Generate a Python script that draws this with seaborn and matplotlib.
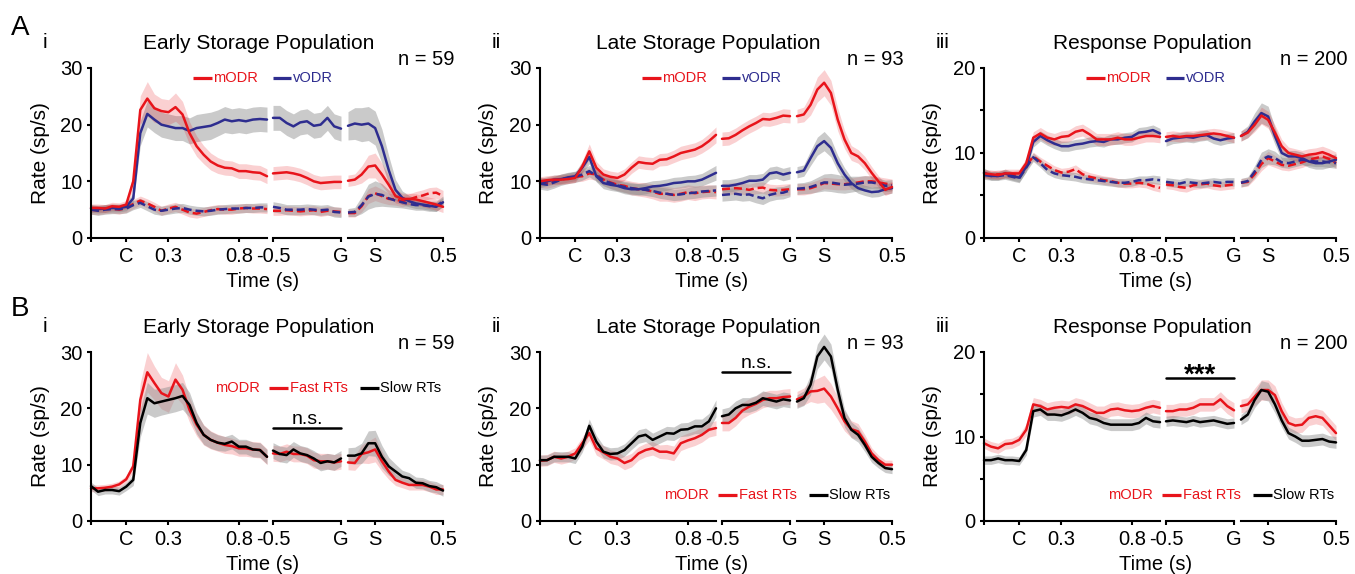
import numpy as np
import matplotlib
matplotlib.use("Agg")
import matplotlib.pyplot as plt
from matplotlib.lines import Line2D
import seaborn as sns

# time grids (s) for the three aligned epochs: cue, go, saccade
t_cue = np.round(np.arange(-0.25, 1.0001, 0.05), 2)   # 26 pts
t_go = np.round(np.arange(-0.5, 0.0001, 0.05), 2)     # 11 pts
t_sac = np.round(np.arange(-0.2, 0.5001, 0.05), 2)    # 15 pts

# ---- row A : mODR vs vODR, preferred (solid) / non-preferred (dashed) ----
early_modr_pref = [5.3, 5.3, 5.2, 5.6, 5.5, 5.9, 10.0, 22.6, 24.6, 22.9, 22.4, 22.2, 23.1, 21.8, 18.5, 16.2, 14.7, 13.5, 12.8, 12.4, 12.3, 11.8, 11.8, 11.6, 11.5, 10.9,
                   11.4, 11.5, 11.6, 11.4, 11.1, 10.6, 10.0, 9.7, 9.8, 9.9, 9.9,
                   10.1, 10.3, 11.2, 12.6, 12.8, 11.2, 9.4, 7.4, 6.9, 6.9, 6.8, 6.5, 6.2, 5.9, 5.5]
early_modr_pref_sem = [0.7, 0.7, 0.7, 0.7, 0.7, 0.7, 1.2, 2.5, 3.0, 2.5, 2.2, 2.2, 2.5, 2.3, 2.0, 1.8, 1.6, 1.5, 1.4, 1.3, 1.3, 1.3, 1.3, 1.3, 1.3, 1.3,
                       1.2, 1.2, 1.2, 1.2, 1.2, 1.2, 1.2, 1.2, 1.2, 1.2, 1.2,
                       1.0, 1.0, 1.5, 2.0, 2.2, 2.0, 1.6, 1.2, 1.0, 1.0, 1.0, 1.0, 1.0, 1.0, 1.0]
early_vodr_pref = [5.2, 5.1, 5.2, 5.3, 5.3, 5.5, 7.0, 18.5, 21.9, 20.9, 20.0, 19.7, 19.4, 19.4, 18.9, 19.4, 19.6, 19.8, 20.3, 20.9, 20.6, 20.8, 20.6, 20.9, 21.0, 20.9,
                   21.2, 21.2, 20.3, 19.7, 20.4, 20.6, 19.8, 20.0, 21.2, 19.7, 19.3,
                   19.8, 20.2, 20.0, 20.2, 19.4, 16.2, 12.0, 8.5, 7.1, 6.5, 6.1, 5.9, 5.7, 5.5, 6.3]
early_vodr_pref_sem = [0.7, 0.7, 0.7, 0.7, 0.7, 0.7, 1.0, 2.2, 2.3, 2.3, 2.2, 2.2, 2.2, 2.2, 2.3, 2.4, 2.4, 2.4, 2.3, 2.3, 2.2, 2.2, 2.2, 2.2, 2.2, 2.2,
                       2.2, 2.2, 2.2, 2.2, 2.2, 2.2, 2.2, 2.2, 2.2, 2.2, 2.2,
                       2.5, 2.8, 3.0, 3.0, 3.0, 3.0, 2.5, 1.8, 1.2, 1.0, 0.9, 0.8, 0.8, 0.8, 0.8]
early_modr_non = [5.0, 4.9, 5.1, 5.2, 5.0, 5.3, 6.0, 6.6, 6.1, 5.5, 4.8, 5.2, 5.5, 5.0, 4.5, 4.3, 4.6, 4.9, 5.1, 5.0, 5.0, 5.2, 5.3, 5.2, 5.2, 5.1,
                  4.8, 4.8, 4.9, 4.8, 4.7, 4.8, 4.9, 4.6, 4.8, 4.7, 4.6,
                  4.4, 4.4, 5.6, 7.4, 7.9, 7.4, 6.9, 6.8, 6.5, 6.8, 7.2, 7.5, 7.9, 8.0, 7.4]
early_modr_non_sem = [0.8, 0.8, 0.8, 0.8, 0.8, 0.8, 0.8, 0.8, 0.8, 0.8, 0.8, 0.8, 0.8, 0.8, 0.8, 0.8, 0.8, 0.8, 0.8, 0.8, 0.8, 0.8, 0.8, 0.8, 0.8, 0.8,
                      0.8, 0.8, 0.8, 0.8, 0.8, 0.8, 0.8, 0.8, 0.8, 0.8, 0.8,
                      0.7, 0.7, 1.0, 1.3, 1.3, 1.2, 1.0, 1.0, 1.0, 1.0, 1.0, 1.0, 1.0, 1.0, 1.0]
early_vodr_non = [5.0, 4.8, 5.0, 5.1, 5.1, 5.2, 5.8, 6.2, 5.6, 5.0, 4.8, 5.0, 5.2, 5.3, 5.0, 4.8, 4.7, 4.8, 5.0, 5.1, 5.2, 5.2, 5.3, 5.3, 5.4, 5.4,
                  5.5, 5.3, 5.0, 5.0, 5.0, 5.1, 5.0, 4.9, 5.0, 4.6, 4.5,
                  4.5, 4.6, 5.8, 7.3, 7.8, 7.6, 7.0, 6.6, 6.3, 6.0, 5.8, 5.8, 5.6, 5.6, 6.5]
early_vodr_non_sem = [0.8, 0.8, 0.8, 0.8, 0.8, 0.8, 0.8, 0.8, 0.8, 0.8, 0.8, 0.8, 0.8, 0.8, 0.8, 0.8, 0.8, 0.8, 0.8, 0.8, 0.8, 0.8, 0.8, 0.8, 0.8, 0.8,
                      0.9, 0.9, 0.9, 0.9, 0.9, 0.9, 0.9, 0.9, 0.9, 0.9, 0.9,
                      0.7, 0.8, 1.5, 2.2, 2.3, 2.0, 1.5, 1.2, 1.0, 0.9, 0.9, 0.9, 0.9, 0.9, 0.9]

late_modr_pref = [10.0, 10.2, 10.3, 10.3, 10.4, 10.6, 12.6, 15.3, 12.4, 11.2, 10.8, 10.6, 11.2, 12.4, 13.4, 13.2, 13.1, 13.8, 13.9, 14.4, 15.0, 15.3, 15.6, 16.2, 17.1, 18.2,
                  17.5, 17.6, 18.2, 19.0, 19.7, 20.3, 21.0, 20.9, 21.2, 21.6, 21.5,
                  21.5, 21.8, 23.5, 26.2, 27.4, 25.6, 20.9, 17.4, 15.0, 14.4, 13.2, 11.5, 10.0, 8.5, 9.0]
late_modr_pref_sem = [0.8, 0.8, 0.8, 0.8, 0.8, 0.8, 1.0, 1.3, 1.1, 1.0, 1.0, 1.0, 1.0, 1.0, 1.1, 1.1, 1.1, 1.1, 1.1, 1.1, 1.2, 1.2, 1.2, 1.2, 1.3, 1.4,
                      1.2, 1.2, 1.2, 1.2, 1.2, 1.2, 1.2, 1.2, 1.2, 1.2, 1.2,
                      1.2, 1.3, 1.8, 2.2, 2.3, 2.2, 2.0, 1.6, 1.3, 1.2, 1.2, 1.1, 1.0, 1.0, 1.0]
late_vodr_pref = [9.7, 10.0, 10.3, 10.4, 10.7, 10.9, 12.4, 14.3, 10.9, 9.7, 9.4, 9.2, 8.8, 8.6, 8.6, 8.8, 9.1, 9.2, 9.4, 9.7, 9.8, 10.0, 10.0, 10.3, 10.9, 11.5,
                  9.2, 9.2, 9.4, 9.7, 10.1, 10.1, 10.3, 11.4, 11.6, 11.2, 11.5,
                  11.6, 11.9, 14.1, 16.2, 17.1, 15.9, 13.2, 11.2, 9.7, 8.8, 8.4, 8.1, 8.2, 8.6, 8.8]
late_vodr_pref_sem = [0.8, 0.8, 0.8, 0.8, 0.8, 0.8, 1.0, 1.2, 1.0, 1.0, 1.0, 1.0, 1.0, 1.0, 1.0, 1.0, 1.0, 1.0, 1.0, 1.0, 1.0, 1.0, 1.1, 1.1, 1.2, 1.3,
                      1.1, 1.1, 1.1, 1.1, 1.1, 1.1, 1.1, 1.1, 1.1, 1.1, 1.1,
                      1.0, 1.0, 1.3, 1.6, 1.7, 1.6, 1.4, 1.2, 1.0, 0.9, 0.9, 0.9, 0.9, 0.9, 0.9]
late_modr_non = [9.8, 9.7, 10.0, 10.4, 10.6, 10.8, 10.9, 11.4, 11.2, 10.3, 9.8, 9.4, 9.2, 8.8, 8.6, 8.5, 8.2, 7.8, 7.8, 7.6, 7.8, 8.1, 7.9, 8.1, 8.2, 8.1,
                 8.6, 8.7, 8.8, 8.7, 8.5, 8.8, 8.9, 8.5, 8.4, 8.5, 8.6,
                 8.6, 8.6, 8.8, 9.2, 9.7, 9.6, 9.5, 9.5, 9.6, 9.8, 10.0, 10.0, 9.8, 9.6, 9.4]
late_modr_non_sem = [0.9, 0.9, 0.9, 0.9, 0.9, 0.9, 0.9, 1.0, 1.0, 1.0, 1.0, 1.0, 1.1, 1.2, 1.2, 1.3, 1.3, 1.3, 1.3, 1.3, 1.3, 1.3, 1.3, 1.2, 1.2, 1.2,
                     1.0, 1.0, 1.0, 1.0, 1.0, 1.0, 1.0, 1.0, 1.0, 1.0, 1.0,
                     1.0, 1.0, 1.0, 1.0, 1.0, 1.0, 1.0, 1.0, 1.0, 1.0, 1.0, 1.0, 1.0, 1.0, 1.0]
late_vodr_non = [9.6, 9.4, 9.8, 10.3, 10.6, 10.8, 11.2, 11.8, 11.0, 10.2, 9.7, 9.3, 9.0, 8.8, 8.6, 8.5, 8.3, 8.0, 7.8, 7.6, 7.7, 7.9, 8.0, 8.2, 8.3, 8.4,
                 7.6, 7.7, 7.8, 7.6, 7.7, 7.3, 7.0, 7.6, 7.9, 8.0, 8.4,
                 8.7, 8.8, 9.0, 9.4, 9.8, 9.8, 9.6, 9.4, 9.5, 9.6, 9.8, 9.8, 9.6, 9.2, 9.3]
late_vodr_non_sem = [1.0, 1.0, 1.0, 1.0, 1.0, 1.0, 1.0, 1.0, 1.0, 1.0, 1.0, 1.0, 1.0, 1.0, 1.0, 1.0, 1.0, 1.0, 1.0, 1.0, 1.0, 1.0, 1.0, 1.0, 1.0, 1.0,
                     1.1, 1.1, 1.1, 1.1, 1.1, 1.1, 1.1, 1.1, 1.1, 1.1, 1.1,
                     1.0, 1.0, 1.1, 1.3, 1.5, 1.6, 1.6, 1.5, 1.4, 1.3, 1.2, 1.1, 1.0, 1.0, 1.0]

resp_modr_pref = [7.6, 7.5, 7.4, 7.6, 7.6, 7.6, 8.8, 11.8, 12.3, 11.8, 11.6, 11.9, 12.0, 12.5, 12.7, 12.2, 11.6, 11.6, 11.6, 11.8, 11.6, 11.6, 11.8, 12.0, 12.0, 11.9,
                  11.9, 12.0, 11.9, 12.0, 12.0, 12.1, 12.2, 12.3, 12.2, 12.0, 11.8,
                  12.0, 12.4, 13.3, 14.4, 13.9, 12.4, 10.8, 10.0, 9.8, 9.6, 9.8, 9.9, 10.1, 9.8, 9.4]
resp_modr_pref_sem = [0.5, 0.5, 0.5, 0.5, 0.5, 0.5, 0.6, 0.7, 0.7, 0.7, 0.7, 0.7, 0.7, 0.7, 0.7, 0.7, 0.7, 0.7, 0.7, 0.7, 0.7, 0.7, 0.7, 0.7, 0.7, 0.7,
                      0.6, 0.6, 0.6, 0.6, 0.6, 0.6, 0.6, 0.6, 0.6, 0.6, 0.6,
                      0.6, 0.6, 0.8, 1.0, 1.0, 0.9, 0.8, 0.7, 0.7, 0.7, 0.7, 0.7, 0.7, 0.7, 0.7]
resp_vodr_pref = [7.7, 7.3, 7.3, 7.6, 7.3, 7.1, 8.4, 11.3, 12.0, 11.5, 11.1, 10.8, 10.8, 11.0, 11.1, 11.3, 11.4, 11.3, 11.6, 11.6, 11.8, 11.9, 12.4, 12.5, 12.7, 12.3,
                  11.4, 11.7, 11.8, 11.9, 11.8, 12.0, 12.1, 11.7, 11.5, 11.7, 11.8,
                  12.0, 12.5, 13.7, 14.7, 14.3, 12.0, 10.0, 9.6, 9.6, 9.4, 9.0, 8.8, 8.8, 9.0, 9.2]
resp_vodr_pref_sem = [0.5, 0.5, 0.5, 0.5, 0.5, 0.5, 0.6, 0.6, 0.6, 0.6, 0.6, 0.6, 0.6, 0.6, 0.6, 0.6, 0.6, 0.6, 0.6, 0.6, 0.6, 0.6, 0.6, 0.6, 0.6, 0.6,
                      0.6, 0.6, 0.6, 0.6, 0.6, 0.6, 0.6, 0.6, 0.6, 0.6, 0.6,
                      0.6, 0.7, 1.0, 1.2, 1.2, 1.0, 0.8, 0.7, 0.7, 0.7, 0.7, 0.7, 0.7, 0.7, 0.7]
resp_modr_non = [7.5, 7.4, 7.5, 7.5, 7.4, 7.5, 8.5, 9.6, 9.0, 8.5, 8.0, 7.7, 7.8, 8.1, 7.5, 7.2, 7.0, 6.8, 6.7, 6.5, 6.4, 6.4, 6.5, 6.4, 6.1, 5.9,
                 6.3, 6.2, 6.0, 5.9, 6.2, 6.3, 6.4, 6.2, 6.1, 6.2, 6.3,
                 6.5, 6.6, 7.5, 8.7, 9.4, 9.0, 8.6, 8.5, 8.7, 8.9, 9.2, 9.4, 9.6, 9.3, 8.8]
resp_modr_non_sem = [0.5, 0.5, 0.5, 0.5, 0.5, 0.5, 0.5, 0.5, 0.5, 0.5, 0.5, 0.5, 0.5, 0.5, 0.5, 0.5, 0.5, 0.5, 0.5, 0.5, 0.5, 0.5, 0.5, 0.5, 0.5, 0.5,
                     0.5, 0.5, 0.5, 0.5, 0.5, 0.5, 0.5, 0.5, 0.5, 0.5, 0.5,
                     0.5, 0.5, 0.6, 0.8, 0.8, 0.7, 0.6, 0.6, 0.6, 0.6, 0.6, 0.6, 0.6, 0.6, 0.6]
resp_vodr_non = [7.4, 7.3, 7.3, 7.4, 7.2, 7.0, 8.3, 9.5, 8.8, 8.0, 7.6, 7.4, 7.3, 7.2, 7.0, 6.9, 6.8, 6.7, 6.6, 6.5, 6.5, 6.6, 6.8, 6.8, 6.9, 6.8,
                 6.6, 6.5, 6.4, 6.6, 6.5, 6.4, 6.5, 6.6, 6.5, 6.6, 6.6,
                 6.5, 6.7, 7.8, 9.2, 9.6, 9.4, 8.9, 8.8, 9.0, 9.2, 9.1, 9.0, 9.0, 8.9, 8.8]
resp_vodr_non_sem = [0.5, 0.5, 0.5, 0.5, 0.5, 0.5, 0.5, 0.5, 0.5, 0.5, 0.5, 0.5, 0.5, 0.5, 0.5, 0.5, 0.5, 0.5, 0.5, 0.5, 0.5, 0.5, 0.5, 0.5, 0.5, 0.5,
                     0.5, 0.5, 0.5, 0.5, 0.5, 0.5, 0.5, 0.5, 0.5, 0.5, 0.5,
                     0.5, 0.5, 0.7, 0.9, 0.9, 0.8, 0.6, 0.6, 0.6, 0.6, 0.6, 0.6, 0.6, 0.6, 0.6]

# ---- row B : mODR fast vs slow RTs ----
early_fast = [5.8, 5.8, 5.9, 6.1, 6.5, 7.4, 9.7, 21.5, 26.4, 24.5, 22.7, 22.1, 25.1, 23.3, 19.7, 17.1, 15.3, 14.4, 13.9, 13.5, 13.3, 12.9, 12.9, 12.7, 12.6, 11.4,
              12.0, 11.9, 12.3, 11.9, 11.9, 11.6, 10.8, 10.6, 10.6, 10.4, 10.6,
              10.4, 10.3, 11.9, 12.2, 12.7, 10.6, 8.8, 7.3, 6.8, 6.4, 6.4, 6.4, 6.1, 5.6, 5.6]
early_fast_sem = [0.6, 0.6, 0.6, 0.6, 0.6, 0.6, 1.0, 3.0, 3.5, 3.0, 2.8, 2.8, 3.0, 2.6, 2.2, 2.0, 1.8, 1.6, 1.5, 1.5, 1.4, 1.4, 1.4, 1.4, 1.4, 1.4,
                  1.4, 1.4, 1.4, 1.4, 1.4, 1.4, 1.4, 1.4, 1.4, 1.4, 1.4,
                  1.3, 1.3, 1.6, 2.0, 2.2, 1.8, 1.4, 1.0, 0.9, 0.9, 0.9, 0.9, 0.9, 0.9, 0.9]
early_slow = [6.2, 5.2, 5.5, 5.5, 5.3, 6.1, 7.3, 17.4, 21.8, 20.9, 21.2, 21.5, 21.8, 22.2, 20.6, 17.4, 15.3, 14.4, 13.9, 13.7, 14.1, 13.2, 13.2, 12.7, 12.6, 11.4,
              12.5, 11.9, 11.7, 12.7, 12.0, 11.7, 11.1, 10.3, 10.6, 10.4, 11.1,
              11.6, 11.6, 12.0, 13.8, 13.8, 11.4, 9.7, 8.8, 7.9, 7.6, 6.8, 6.7, 6.2, 6.0, 5.4]
early_slow_sem = [0.7, 0.7, 0.7, 0.7, 0.7, 0.7, 1.0, 2.5, 2.8, 2.5, 2.4, 2.4, 2.4, 2.4, 2.2, 1.9, 1.7, 1.5, 1.4, 1.3, 1.3, 1.3, 1.3, 1.3, 1.3, 1.3,
                  1.4, 1.4, 1.4, 1.4, 1.4, 1.4, 1.4, 1.4, 1.4, 1.4, 1.4,
                  1.4, 1.5, 1.8, 2.2, 2.3, 2.0, 1.6, 1.3, 1.1, 1.0, 1.0, 1.0, 1.0, 1.0, 1.0]
late_fast = [10.7, 10.8, 11.4, 11.1, 11.4, 12.0, 13.8, 15.6, 12.9, 12.2, 11.4, 11.1, 10.3, 10.8, 12.0, 12.6, 12.9, 12.3, 12.3, 12.0, 13.8, 14.3, 14.7, 15.3, 16.2, 16.5,
             17.4, 17.4, 18.3, 19.6, 20.3, 20.8, 21.5, 21.8, 21.8, 22.0, 22.1,
             21.6, 22.1, 23.0, 23.1, 23.5, 22.1, 20.0, 17.7, 16.3, 15.9, 14.1, 12.0, 10.8, 10.0, 10.0]
late_fast_sem = [1.0, 1.0, 1.0, 1.0, 1.0, 1.0, 1.1, 1.3, 1.2, 1.2, 1.2, 1.2, 1.2, 1.2, 1.2, 1.2, 1.2, 1.2, 1.3, 1.3, 1.3, 1.3, 1.3, 1.3, 1.3, 1.3,
                 1.4, 1.4, 1.4, 1.4, 1.4, 1.4, 1.4, 1.4, 1.4, 1.4, 1.4,
                 1.4, 1.5, 1.8, 2.2, 2.4, 2.3, 2.0, 1.7, 1.5, 1.4, 1.2, 1.0, 0.9, 0.8, 0.8]
late_slow = [10.8, 10.8, 11.4, 11.4, 11.4, 11.1, 13.2, 16.9, 14.1, 12.3, 11.9, 12.0, 12.6, 13.8, 15.0, 15.3, 14.4, 15.0, 15.6, 15.5, 16.2, 16.3, 16.8, 16.8, 17.7, 20.0,
             18.6, 18.9, 20.0, 20.6, 20.6, 21.0, 21.8, 21.5, 21.2, 21.6, 21.4,
             21.2, 21.8, 24.2, 29.2, 30.9, 29.2, 23.3, 18.3, 16.2, 15.3, 13.5, 11.4, 10.3, 9.4, 9.2]
late_slow_sem = [0.9, 0.9, 0.9, 0.9, 0.9, 0.9, 1.0, 1.2, 1.1, 1.1, 1.1, 1.1, 1.1, 1.1, 1.2, 1.2, 1.2, 1.2, 1.2, 1.2, 1.2, 1.2, 1.3, 1.3, 1.4, 1.5,
                 1.3, 1.3, 1.3, 1.3, 1.3, 1.3, 1.3, 1.3, 1.3, 1.3, 1.3,
                 1.2, 1.3, 1.8, 2.2, 2.3, 2.2, 2.0, 1.6, 1.4, 1.3, 1.2, 1.0, 0.9, 0.8, 0.8]
resp_fast = [9.2, 8.8, 8.6, 9.1, 9.2, 9.6, 10.8, 13.8, 13.6, 13.2, 13.4, 13.5, 13.4, 13.8, 13.6, 13.2, 12.8, 12.8, 13.2, 13.3, 13.1, 13.0, 13.1, 13.4, 13.6, 13.4,
             13.0, 13.0, 13.2, 13.2, 13.4, 13.8, 13.8, 13.8, 14.4, 13.6, 13.1,
             13.6, 13.8, 14.7, 15.5, 15.5, 14.9, 13.0, 11.6, 11.3, 11.4, 12.2, 12.4, 12.2, 11.3, 10.4]
resp_fast_sem = [0.6, 0.6, 0.6, 0.6, 0.6, 0.6, 0.7, 0.8, 0.8, 0.8, 0.8, 0.8, 0.8, 0.8, 0.8, 0.8, 0.8, 0.8, 0.8, 0.8, 0.8, 0.8, 0.8, 0.8, 0.8, 0.8,
                 0.8, 0.8, 0.8, 0.8, 0.8, 0.8, 0.8, 0.8, 0.9, 0.9, 0.9,
                 0.8, 0.8, 1.0, 1.2, 1.2, 1.1, 1.0, 0.9, 0.9, 0.9, 0.9, 0.9, 0.9, 0.9, 0.9]
resp_slow = [7.2, 7.2, 7.4, 7.2, 7.2, 7.1, 8.4, 13.0, 13.2, 12.6, 12.6, 12.5, 12.8, 13.2, 12.8, 12.2, 12.0, 11.6, 11.4, 11.4, 11.4, 11.4, 11.6, 12.2, 11.8, 11.7,
             11.8, 11.9, 11.8, 11.7, 11.9, 11.7, 11.8, 11.9, 11.7, 11.5, 11.6,
             12.0, 12.6, 14.3, 15.5, 15.3, 13.8, 11.9, 10.4, 10.0, 9.5, 9.5, 9.6, 9.7, 9.4, 9.3]
resp_slow_sem = [0.5, 0.5, 0.5, 0.5, 0.5, 0.5, 0.6, 0.7, 0.7, 0.7, 0.7, 0.7, 0.7, 0.7, 0.7, 0.7, 0.7, 0.7, 0.7, 0.7, 0.7, 0.7, 0.7, 0.7, 0.7, 0.7,
                 0.6, 0.6, 0.6, 0.6, 0.6, 0.6, 0.6, 0.6, 0.6, 0.6, 0.6,
                 0.6, 0.7, 0.9, 1.1, 1.1, 1.0, 0.8, 0.7, 0.7, 0.7, 0.7, 0.7, 0.7, 0.7, 0.7]

# ---- styling ----
RED = "#E8141B"
NAVY = "#2E2D8F"
BLACK = "#000000"
BANDS = {"pink": (RED, 0.2), "gray": ("#8A8A8A", 0.45)}
SOLID = "-"
DASH = (0, (3.2, 1.6))

sns.set_theme(style="ticks", rc={"axes.edgecolor": "black", "xtick.color": "black",
                                 "ytick.color": "black", "axes.linewidth": 1.5,
                                 "text.color": "black", "axes.labelcolor": "black"})
plt.rcParams["font.family"] = ["Liberation Sans", "DejaVu Sans"]

W, H = 1355, 574
fig = plt.figure(figsize=(W / 100, H / 100), dpi=100)


def ftext(x, y, s, **kw):
    fig.text(x / W, 1 - y / H, s, **kw)


def fline(x0, x1, y, color, lw=2.3):
    fig.add_artist(Line2D([x0 / W, x1 / W], [1 - y / H, 1 - y / H],
                          transform=fig.transFigure, color=color, lw=lw,
                          solid_capstyle="butt"))


rows = {0: (68, 238), 1: (352, 521)}
seg_px = [(0, 176), (182, 250), (257, 352)]
seg_lim = [(-0.25, 1.0), (-0.5, 0.0), (-0.2, 0.5)]
seg_ticks = [([-0.25, 0, 0.3, 0.8], ["", "C", "0.3", "0.8"]),
             ([-0.5, 0], ["-0.5", "G"]),
             ([0, 0.5], ["S", "0.5"])]
seg_t = [t_cue, t_go, t_sac]
bounds = [0, 26, 37, 52]

y30 = ([0, 10, 20, 30], ["0", "10", "20", "30"])
y20 = ([0, 5, 10, 15, 20], ["0", "", "10", "", "20"])

rowA = lambda mp, vp, mn, vn: [
    (mn[0], mn[1], RED, "pink", DASH), (vn[0], vn[1], NAVY, "gray", DASH),
    (vp[0], vp[1], NAVY, "gray", SOLID), (mp[0], mp[1], RED, "pink", SOLID)]
rowB = lambda f, s: [(f[0], f[1], RED, "pink", SOLID), (s[0], s[1], BLACK, "gray", SOLID)]

panels = [
    dict(row=0, left=91, yt=y30, title="Early Storage Population", n="n = 59", num="i",
         curves=rowA((early_modr_pref, early_modr_pref_sem), (early_vodr_pref, early_vodr_pref_sem),
                     (early_modr_non, early_modr_non_sem), (early_vodr_non, early_vodr_non_sem))),
    dict(row=0, left=540, yt=y30, title="Late Storage Population", n="n = 93", num="ii",
         curves=rowA((late_modr_pref, late_modr_pref_sem), (late_vodr_pref, late_vodr_pref_sem),
                     (late_modr_non, late_modr_non_sem), (late_vodr_non, late_vodr_non_sem))),
    dict(row=0, left=984, yt=y20, title="Response Population", n="n = 200", num="iii",
         curves=rowA((resp_modr_pref, resp_modr_pref_sem), (resp_vodr_pref, resp_vodr_pref_sem),
                     (resp_modr_non, resp_modr_non_sem), (resp_vodr_non, resp_vodr_non_sem))),
    dict(row=1, left=91, yt=y30, title="Early Storage Population", n="n = 59", num="i",
         curves=rowB((early_fast, early_fast_sem), (early_slow, early_slow_sem)),
         leg_y=388, sig="n.s.", sig_y=428),
    dict(row=1, left=540, yt=y30, title="Late Storage Population", n="n = 93", num="ii",
         curves=rowB((late_fast, late_fast_sem), (late_slow, late_slow_sem)),
         leg_y=495, sig="n.s.", sig_y=372),
    dict(row=1, left=984, yt=y20, title="Response Population", n="n = 200", num="iii",
         curves=rowB((resp_fast, resp_fast_sem), (resp_slow, resp_slow_sem)),
         leg_y=495, sig="***", sig_y=378),
]

for p in panels:
    L = p["left"]
    top, bot = rows[p["row"]]
    ymax = p["yt"][0][-1]
    for k in range(3):
        x0, x1 = L + seg_px[k][0], L + seg_px[k][1]
        ax = fig.add_axes([x0 / W, 1 - bot / H, (x1 - x0) / W, (bot - top) / H])
        t = seg_t[k]
        for vals, sem, col, band, ls in p["curves"]:
            y = np.array(vals[bounds[k]:bounds[k + 1]])
            s = np.array(sem[bounds[k]:bounds[k + 1]])
            bc, ba = BANDS[band]
            ax.fill_between(t, y - s, y + s, color=bc, alpha=ba, lw=0, clip_on=False)
        for vals, sem, col, band, ls in p["curves"]:
            y = np.array(vals[bounds[k]:bounds[k + 1]])
            sns.lineplot(x=t, y=y, ax=ax, color=col, lw=1.8, linestyle=ls,
                         errorbar=None, legend=False, clip_on=False)
        ax.set_xlim(seg_lim[k])
        ax.set_ylim(0, ymax)
        ax.set_xlabel("")
        ax.set_ylabel("")
        ax.set_xticks(seg_ticks[k][0])
        ax.set_xticklabels(seg_ticks[k][1])
        ax.tick_params(axis="x", length=3, width=1.5, pad=3.5, labelsize=14.5)
        ax.set_facecolor("none")
        if k == 0:
            sns.despine(ax=ax)
            ax.set_yticks(p["yt"][0])
            ax.set_yticklabels(p["yt"][1])
            ax.tick_params(axis="y", length=3, width=1.5, pad=3, labelsize=14.5)
        else:
            sns.despine(ax=ax, left=True)
            ax.tick_params(axis="y", left=False, labelleft=False)
        if k == 1 and "sig" in p:
            ys = (bot - p["sig_y"]) / (bot - top) * ymax
            ax.plot([-0.5, 0.0], [ys, ys], color="black", lw=1.8, clip_on=False)

    # panel texts
    title_base = top - 19
    ftext(L + 168, title_base, p["title"], ha="center", va="baseline", fontsize=15)
    ftext(L - 48, title_base - 1, p["num"], ha="left", va="baseline", fontsize=15)
    ftext(L + 364, top - 3, p["n"], ha="right", va="baseline", fontsize=14.5)
    ftext(L - 51, (top + bot) / 2, "Rate (sp/s)", ha="center", va="center",
          rotation=90, fontsize=15)
    ftext(L + 172, bot + 49, "Time (s)", ha="center", va="baseline", fontsize=14.5)

    if p["row"] == 0:
        ly = top + 10
        fline(L + 102, L + 121, ly, RED)
        ftext(L + 122, ly, "mODR", color=RED, ha="left", va="center", fontsize=10.5)
        fline(L + 182, L + 200, ly, NAVY)
        ftext(L + 202, ly, "vODR", color=NAVY, ha="left", va="center", fontsize=10.5)
    else:
        ly = p["leg_y"]
        ftext(L + 124, ly, "mODR", color=RED, ha="left", va="center", fontsize=10.5)
        fline(L + 178, L + 197, ly, RED)
        ftext(L + 199, ly, "Fast RTs", color=RED, ha="left", va="center", fontsize=10.5)
        fline(L + 269, L + 288, ly, BLACK)
        ftext(L + 289, ly, "Slow RTs", color=BLACK, ha="left", va="center", fontsize=10.5)
        if p["sig"] == "***":
            ftext(L + 216, p["sig_y"] + 5, p["sig"], ha="center", va="baseline",
                  fontsize=20, fontweight="bold")
        else:
            ftext(L + 216, p["sig_y"] - 4, p["sig"], ha="center", va="baseline", fontsize=14)

ftext(11, 35, "A", ha="left", va="baseline", fontsize=20)
ftext(11, 316, "B", ha="left", va="baseline", fontsize=20)

fig.savefig("out.png", dpi=100)
